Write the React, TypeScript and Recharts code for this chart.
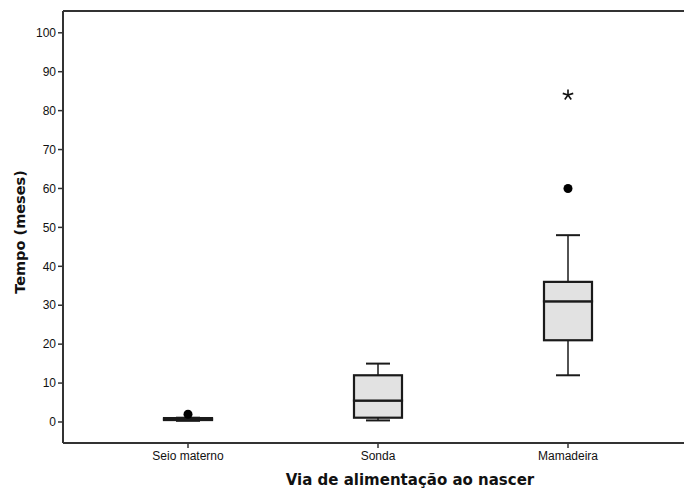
import React from "react";
import {
  ComposedChart,
  Bar,
  Scatter,
  XAxis,
  YAxis,
  ReferenceLine,
} from "recharts";

const categories = ["Seio materno", "Sonda", "Mamadeira"];
const whiskerLow = [0.3, 0.4, 12];
const quartile1 = [0.5, 1.1, 21];
const medians = [0.7, 5.5, 31];
const quartile3 = [1.0, 12, 36];
const whiskerHigh = [1.1, 15, 48];
const outliers: (number | null)[] = [2, null, 60];
const extremes: (number | null)[] = [null, null, 84];
const yTicks = [0, 10, 20, 30, 40, 50, 60, 70, 80, 90, 100];
const yDomain: [number, number] = [-5.4, 105.6];

const data = categories.map((cat, i) => ({
  cat,
  base: whiskerLow[i],
  lowWhisker: quartile1[i] - whiskerLow[i],
  lowBox: medians[i] - quartile1[i],
  highBox: quartile3[i] - medians[i],
  highWhisker: whiskerHigh[i] - quartile3[i],
  outlier: outliers[i],
  extreme: extremes[i],
}));

const INK = "#1a1a1a";
const AXIS = "#333";
const FILL = "#e2e2e2";
const FONT = "'Liberation Sans', Arial, sans-serif";
const TITLE_FONT = "'DejaVu Sans', Verdana, sans-serif";

const norm = (p: any) => {
  const top = Math.min(p.y, p.y + p.height);
  const bottom = Math.max(p.y, p.y + p.height);
  return { x: p.x, w: p.width, top, bottom };
};

const LowWhiskerShape = (p: any) => {
  const { x, w, top, bottom } = norm(p);
  const cx = x + w / 2;
  const half = w / 4;
  return (
    <g>
      <line x1={cx} x2={cx} y1={top} y2={bottom} stroke={INK} strokeWidth={1.5} />
      <line x1={cx - half} x2={cx + half} y1={bottom} y2={bottom} stroke={INK} strokeWidth={2} />
    </g>
  );
};

const HighWhiskerShape = (p: any) => {
  const { x, w, top, bottom } = norm(p);
  const cx = x + w / 2;
  const half = w / 4;
  return (
    <g>
      <line x1={cx} x2={cx} y1={top} y2={bottom} stroke={INK} strokeWidth={1.5} />
      <line x1={cx - half} x2={cx + half} y1={top} y2={top} stroke={INK} strokeWidth={2} />
    </g>
  );
};

const BoxShape = (p: any) => {
  const { x, w, top, bottom } = norm(p);
  return (
    <rect
      x={x}
      y={top}
      width={w}
      height={Math.max(bottom - top, 0.5)}
      fill={FILL}
      stroke={INK}
      strokeWidth={2.2}
    />
  );
};

const DotShape = (p: any) => {
  if (p.payload == null || p.payload.outlier == null || !isFinite(p.cy)) return <g />;
  return <circle cx={p.cx} cy={p.cy} r={4.5} fill="#000" />;
};

const StarShape = (p: any) => {
  if (p.payload == null || p.payload.extreme == null || !isFinite(p.cy)) return <g />;
  const arms = [0, 1, 2, 3, 4].map((k) => {
    const a = -Math.PI / 2 + (k * 2 * Math.PI) / 5;
    return (
      <line
        key={k}
        x1={p.cx}
        y1={p.cy}
        x2={p.cx + 5.5 * Math.cos(a)}
        y2={p.cy + 5.5 * Math.sin(a)}
        stroke="#111"
        strokeWidth={1.6}
      />
    );
  });
  return <g>{arms}</g>;
};

export default function App() {
  return (
    <div
      style={{
        position: "absolute",
        left: 0,
        top: 0,
        width: 684,
        height: 488,
        background: "#fff",
      }}
    >
      <ComposedChart
        width={684}
        height={488}
        data={data}
        margin={{ top: 11, right: 0, bottom: 0, left: 0 }}
        barSize={48}
      >
        <XAxis
          dataKey="cat"
          type="category"
          height={45}
          padding={{ left: 30, right: 21 }}
          axisLine={{ stroke: AXIS, strokeWidth: 2 }}
          tickLine={{ stroke: AXIS, strokeWidth: 1.5 }}
          tickSize={5}
          tickMargin={3}
          tick={{ fill: "#111", fontSize: 12, fontFamily: FONT }}
          label={{
            content: (props: any) => {
              const vb = props.viewBox || {};
              return (
                <text
                  x={410}
                  y={(vb.y || 443) + 37}
                  textAnchor="middle"
                  dominantBaseline="central"
                  fontFamily={TITLE_FONT}
                  fontWeight="bold"
                  fontSize={15}
                  fill="#111"
                >
                  Via de alimentação ao nascer
                </text>
              );
            },
          }}
        />
        <YAxis
          type="number"
          domain={yDomain}
          ticks={yTicks}
          allowDataOverflow
          width={63}
          axisLine={{ stroke: AXIS, strokeWidth: 2 }}
          tickLine={{ stroke: AXIS, strokeWidth: 1.5 }}
          tickSize={5}
          tickMargin={2}
          tick={{ fill: "#111", fontSize: 12, fontFamily: FONT }}
          label={{
            content: () => (
              <text
                x={20}
                y={232}
                transform="rotate(-90 20 232)"
                textAnchor="middle"
                dominantBaseline="central"
                fontFamily={TITLE_FONT}
                fontWeight="bold"
                fontSize={14.5}
                fill="#111"
              >
                Tempo (meses)
              </text>
            ),
          }}
        />
        <ReferenceLine y={yDomain[1]} stroke={AXIS} strokeWidth={2} />
        <Bar dataKey="base" stackId="box" fill="transparent" isAnimationActive={false} />
        <Bar dataKey="lowWhisker" stackId="box" shape={<LowWhiskerShape />} isAnimationActive={false} />
        <Bar dataKey="lowBox" stackId="box" shape={<BoxShape />} isAnimationActive={false} />
        <Bar dataKey="highBox" stackId="box" shape={<BoxShape />} isAnimationActive={false} />
        <Bar dataKey="highWhisker" stackId="box" shape={<HighWhiskerShape />} isAnimationActive={false} />
        <Scatter dataKey="outlier" shape={<DotShape />} isAnimationActive={false} />
        <Scatter dataKey="extreme" shape={<StarShape />} isAnimationActive={false} />
      </ComposedChart>
    </div>
  );
}
